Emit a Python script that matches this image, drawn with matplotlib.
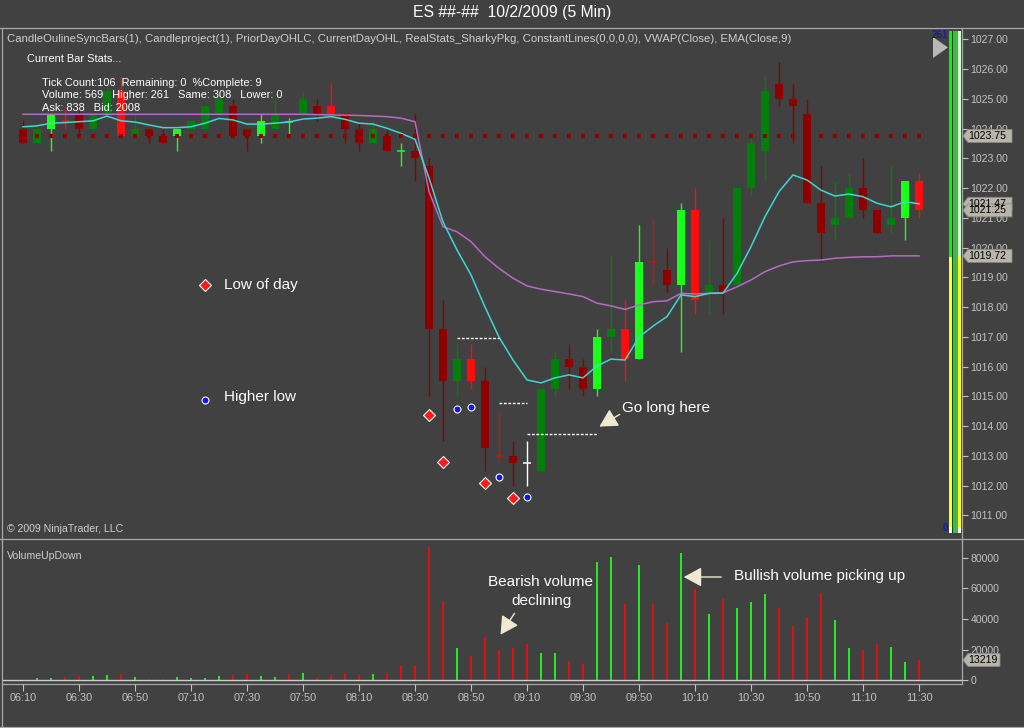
import matplotlib
matplotlib.use('Agg')
import matplotlib.pyplot as plt
import numpy as np
from matplotlib.patches import Polygon, Rectangle, FancyArrowPatch
from matplotlib.lines import Line2D
from matplotlib.transforms import IdentityTransform

plt.rcParams['font.family'] = ['Liberation Sans', 'DejaVu Sans']

# ---------------- data ----------------
time_labels = ["06:10", "06:30", "06:50", "07:10", "07:30", "07:50", "08:10", "08:30", "08:50",
               "09:10", "09:30", "09:50", "10:10", "10:30", "10:50", "11:10", "11:30"]

opens = [1024.0, 1023.5, 1024.0, 1024.25, 1024.5, 1024.0, 1024.5, 1025.25, 1023.75, 1024.0,
         1023.75, 1023.75, 1024.0, 1024.0, 1024.5, 1024.75, 1024.0, 1023.75, 1024.0, 1024.22,
         1024.5, 1024.75, 1024.75, 1024.5, 1024.0, 1023.5, 1023.75, 1023.25, 1023.25, 1022.75,
         1017.25, 1015.5, 1016.25, 1015.5, 1013.0, 1013.0, 1012.75, 1012.5, 1015.25, 1016.25,
         1016.0, 1015.25, 1017.0, 1017.25, 1016.25, 1019.5, 1019.25, 1018.75, 1021.25, 1018.5,
         1018.75, 1018.75, 1022.0, 1023.25, 1025.5, 1025.0, 1024.5, 1021.5, 1020.75, 1021.0,
         1022.0, 1021.25, 1020.75, 1021.0, 1022.25]
highs = [1024.25, 1024.0, 1024.5, 1024.75, 1024.75, 1024.5, 1025.5, 1025.75, 1024.5, 1024.0,
         1024.0, 1024.0, 1024.25, 1024.75, 1025.25, 1025.0, 1024.0, 1024.5, 1025.0, 1024.35,
         1025.25, 1025.0, 1025.5, 1024.5, 1024.25, 1024.25, 1024.0, 1023.5, 1024.5, 1023.0,
         1018.25, 1016.75, 1016.75, 1016.0, 1014.5, 1013.5, 1013.5, 1015.25, 1016.5, 1016.75,
         1016.25, 1017.25, 1019.75, 1018.25, 1020.75, 1021.0, 1020.0, 1021.5, 1022.0, 1020.25,
         1021.0, 1022.0, 1023.75, 1025.75, 1026.25, 1025.5, 1025.0, 1022.75, 1022.25, 1022.5,
         1023.0, 1021.25, 1022.75, 1022.25, 1022.5]
lows = [1023.5, 1023.5, 1023.25, 1024.0, 1023.75, 1024.0, 1024.5, 1023.75, 1023.75, 1023.5,
        1023.5, 1023.25, 1024.0, 1024.0, 1024.5, 1023.75, 1023.25, 1023.5, 1024.0, 1023.8,
        1024.5, 1024.25, 1024.5, 1023.5, 1023.25, 1023.5, 1023.25, 1022.75, 1022.25, 1015.0,
        1013.5, 1015.0, 1015.25, 1012.5, 1012.75, 1012.0, 1012.0, 1012.5, 1015.0, 1015.25,
        1015.0, 1015.0, 1016.5, 1015.5, 1016.25, 1018.75, 1018.5, 1016.5, 1017.75, 1017.75,
        1017.75, 1018.75, 1021.75, 1022.25, 1024.75, 1023.5, 1021.5, 1019.5, 1020.25, 1021.0,
        1021.0, 1020.5, 1020.5, 1020.25, 1021.0]
closes = [1023.5, 1024.0, 1024.5, 1024.25, 1024.0, 1024.5, 1025.25, 1023.75, 1024.0, 1023.75,
          1023.5, 1024.0, 1024.25, 1024.75, 1025.0, 1023.75, 1023.75, 1024.25, 1024.5, 1024.22,
          1025.0, 1024.5, 1024.5, 1024.0, 1023.5, 1024.0, 1023.25, 1023.25, 1023.0, 1017.25,
          1015.5, 1016.25, 1015.5, 1013.25, 1013.0, 1012.75, 1012.75, 1015.25, 1016.25, 1016.0,
          1015.25, 1017.0, 1017.25, 1016.25, 1019.5, 1019.5, 1018.75, 1021.25, 1018.25, 1018.75,
          1018.5, 1022.0, 1023.5, 1025.25, 1025.0, 1024.75, 1021.5, 1020.5, 1021.0, 1022.0,
          1021.25, 1020.5, 1021.0, 1022.25, 1021.25]
candle_kind = ("dr dg bg br dr dg dg br dg dr dr bg dg dg dg dr dr bg dg bg "
               "dg dr br dr dr dg dr bg dr dr dr dg br dr mr dr w dg dg dr "
               "dr bg dg br bg mr dr bg br dg dr dg dg dg dr dr dr dr dg dg "
               "dr dr dg bg br").split()

ema9 = [1024.06, 1024.09, 1024.18, 1024.20, 1024.23, 1024.26, 1024.42, 1024.26, 1024.22, 1024.12,
        1024.03, 1024.03, 1024.06, 1024.18, 1024.34, 1024.29, 1024.15, 1024.15, 1024.18, 1024.22,
        1024.32, 1024.35, 1024.40, 1024.31, 1024.18, 1024.15, 1024.01, 1023.84, 1023.64, 1022.34,
        1020.86, 1019.92, 1019.08, 1018.00, 1016.99, 1016.22, 1015.55, 1015.45, 1015.62, 1015.72,
        1015.62, 1016.02, 1016.25, 1016.22, 1016.99, 1017.36, 1017.68, 1018.41, 1018.35, 1018.46,
        1018.47, 1019.13, 1020.03, 1021.04, 1021.88, 1022.44, 1022.27, 1021.93, 1021.73, 1021.80,
        1021.71, 1021.49, 1021.37, 1021.54, 1021.47]
vwap = [1024.48] * 21 + [1024.47, 1024.46, 1024.45, 1024.44, 1024.42, 1024.40, 1024.35, 1024.23,
        1021.88, 1020.70, 1020.53, 1020.20, 1019.69, 1019.30, 1018.97, 1018.71, 1018.60, 1018.52,
        1018.44, 1018.35, 1018.13, 1018.04, 1017.92, 1018.07, 1018.18, 1018.21, 1018.46, 1018.44,
        1018.46, 1018.48, 1018.68, 1018.91, 1019.19, 1019.38, 1019.52, 1019.56, 1019.58, 1019.64,
        1019.67, 1019.69, 1019.69, 1019.72, 1019.72, 1019.72]

volume = [400, 1700, 1700, 2300, 2800, 2800, 3500, 4100, 2000, 600,
          600, 2000, 1200, 1700, 2800, 3500, 3800, 2800, 2000, 4000,
          5000, 1500, 3500, 5000, 3500, 3900, 4600, 10000, 10000, 87200,
          51700, 20900, 15900, 28500, 19500, 20900, 23500, 18000, 17600, 12800,
          10600, 77400, 80700, 49800, 75200, 49800, 37200, 83300, 59400, 43300,
          52900, 47400, 51300, 56300, 47400, 35400, 41100, 57200, 39400, 20900,
          19800, 23700, 21900, 12100, 13219]
volume_dir = ("r g g r r g g r g r r g g g g r r g g r "
              "g r r r r g r r r r r g r r r r r g g r "
              "r g g r g r r g r g r g g g r r r r g g "
              "r r g g r").split()

prior_level = 1023.75
low_of_day_bars = [29, 30, 33, 35]
low_of_day_marks = [1014.37, 1012.78, 1012.08, 1011.59]
higher_low_bars = [31, 32, 34, 36]
higher_low_marks = [1014.56, 1014.63, 1012.30, 1011.63]
dash_start = [31, 34, 36]
dash_end = [34, 36, 41]
dash_price = [1016.97, 1014.78, 1013.72]

price_ticks = list(range(1011, 1028))
vol_ticks = [0, 20000, 40000, 60000, 80000]

# ---------------- figure ----------------
W, H = 1024, 728
BG = '#414141'
TXT = '#c4c4c4'
fig = plt.figure(figsize=(W / 100, H / 100), dpi=100)
fig.patch.set_facecolor(BG)


def fx(px):
    return px / W


def fy(py):
    return 1 - py / H


n = len(opens)
xs = np.arange(n)
kind_col = {'dr': '#8e0000', 'br': '#ff0c0c', 'mr': '#cc1010', 'dg': '#00800a',
            'bg': '#1aff1a', 'w': '#ffffff'}
vcol = {'r': '#e01010', 'g': '#22ea22'}

# price panel
axp = fig.add_axes([fx(3), fy(538), fx(962) - fx(3), fy(28) - fy(538)])
axp.set_facecolor(BG)
axp.set_xlim(-1.4286, 67.07)
axp.set_ylim(1010.237, 1027.38)

o = np.array(opens); c = np.array(closes)
lo_b = np.minimum(o, c); hi_b = np.maximum(o, c)
cols = [kind_col[k] for k in candle_kind]
axp.vlines(xs, lows, highs, colors=cols, lw=1.0, zorder=2)
body = hi_b - lo_b
has_body = body > 0.01
axp.bar(xs[has_body], body[has_body], bottom=lo_b[has_body], width=0.52,
        color=[cols[i] for i in xs[has_body]], lw=0, zorder=3)
for i in xs[~has_body]:
    axp.hlines(o[i], i - 0.27, i + 0.27, colors=cols[i], lw=1.1, zorder=3)

axp.plot(xs, vwap, color='#b56cc6', lw=1.1, zorder=4)
axp.plot(xs, ema9, color='#3fd8d0', lw=1.1, zorder=5)
axp.scatter(xs, [prior_level] * n, marker='s', s=9, color='#8e0000', lw=0, zorder=6)

for s0, s1, p in zip(dash_start, dash_end, dash_price):
    axp.plot([s0, s1], [p, p], color='white', lw=1.0, ls=(0, (2, 1.2)), zorder=6)

axp.plot(low_of_day_bars, low_of_day_marks, ls='none', marker='D', ms=6.2,
         mfc='#ff1a1a', mec='white', mew=0.8, zorder=7)
axp.plot(higher_low_bars, higher_low_marks, ls='none', marker='o', ms=5.0,
         mfc='#1010ff', mec='white', mew=0.8, zorder=7)

axp.yaxis.tick_right()
axp.set_yticks(price_ticks)
axp.set_yticklabels([f"{t:.2f}" for t in price_ticks])
axp.tick_params(axis='y', colors=TXT, labelsize=7.6, length=4, width=0.8, pad=2.0)
axp.set_xticks([])
for sname, sp in axp.spines.items():
    if sname == 'right':
        sp.set_color('#a8a8a8'); sp.set_linewidth(0.9)
    else:
        sp.set_visible(False)

# volume panel
axv = fig.add_axes([fx(3), fy(684), fx(962) - fx(3), fy(540) - fy(684)])
axv.set_facecolor(BG)
axv.set_xlim(-1.4286, 67.07)
axv.set_ylim(-2414, 91550)
axv.bar(xs, volume, width=0.2, color=[vcol[d] for d in volume_dir], lw=0, zorder=3)
axv.axhline(0, color='#cfcfcf', lw=1.0, zorder=4)
axv.yaxis.tick_right()
axv.set_yticks(vol_ticks)
axv.set_yticklabels([str(t) for t in vol_ticks])
axv.tick_params(axis='y', colors=TXT, labelsize=7.6, length=4, width=0.8, pad=2.0)
axv.set_xticks(xs[::4])
axv.set_xticklabels(time_labels)
axv.tick_params(axis='x', colors=TXT, labelsize=7.8, length=5, width=0.8, pad=1.5)
for sname, sp in axv.spines.items():
    if sname in ('right', 'bottom'):
        sp.set_color('#a8a8a8'); sp.set_linewidth(0.9)
    else:
        sp.set_visible(False)

# ---------------- frame lines ----------------
for (x0, y0, x1, y1) in [(0, 27.5, W, 27.5), (0, 538.5, W, 538.5), (1.5, 27.5, 1.5, 727),
                         (0, 726.5, W, 726.5)]:
    fig.add_artist(Line2D([fx(x0), fx(x1)], [fy(y0), fy(y1)], color='#a8a8a8', lw=0.9))

# ---------------- texts ----------------
fig.text(0.5, fy(13), "ES ##-##  10/2/2009 (5 Min)", color='white', fontsize=11.3,
         ha='center', va='center')
fig.text(fx(7), fy(39.5), "CandleOulineSyncBars(1), Candleproject(1), PriorDayOHLC, CurrentDayOHL, "
         "RealStats_SharkyPkg, ConstantLines(0,0,0,0), VWAP(Close), EMA(Close,9)",
         color='#cfcfcf', fontsize=8.2, ha='left', va='center')
fig.text(fx(27), fy(59), "Current Bar Stats...", color='white', fontsize=7.9, va='center')
fig.text(fx(42), fy(83), "Tick Count:106  Remaining: 0  %Complete: 9", color='white',
         fontsize=7.9, va='center')
fig.text(fx(42), fy(95.5), "Volume: 569   Higher: 261   Same: 308   Lower: 0", color='white',
         fontsize=7.9, va='center')
fig.text(fx(42), fy(108), "Ask: 838   Bid: 2008", color='white', fontsize=7.9, va='center')
fig.text(fx(7), fy(529), "© 2009 NinjaTrader, LLC", color='#cfcfcf', fontsize=7.6, va='center')
fig.text(fx(7), fy(556), "VolumeUpDown", color='#cfcfcf', fontsize=7.6, va='center')

fig.add_artist(Line2D([fx(205)], [fy(285)], marker='D', ms=6.2, mfc='#ff1a1a', mec='white',
                      mew=0.8, ls='none'))
fig.text(fx(224), fy(285), "Low of day", color='white', fontsize=11, va='center')
fig.add_artist(Line2D([fx(205)], [fy(400)], marker='o', ms=5.0, mfc='#1010ff', mec='white',
                      mew=0.8, ls='none'))
fig.text(fx(224), fy(397), "Higher low", color='white', fontsize=11, va='center')

fig.text(fx(622), fy(408), "Go long here", color='white', fontsize=11, va='center')
fig.text(fx(541), fy(582), "Bearish volume", color='white', fontsize=11, va='center', ha='center')
fig.text(fx(541), fy(601), "declining", color='white', fontsize=11, va='center', ha='center')
fig.text(fx(734), fy(576), "Bullish volume picking up", color='white', fontsize=11, va='center')

ARW = '#efe9d4'
for (x0, y0, x1, y1) in [(622, 413, 597, 428), (516, 611, 499, 637), (724, 577, 681, 577)]:
    fig.add_artist(FancyArrowPatch((fx(x0), fy(y0)), (fx(x1), fy(y1)),
                                   transform=fig.transFigure,
                                   arrowstyle='-|>,head_length=11,head_width=6',
                                   mutation_scale=1, color=ARW, lw=1.0))

# ---------------- RealStats meter ----------------
def frect(x0, y0, x1, y1, color):
    fig.add_artist(Rectangle((fx(x0), fy(y1)), fx(x1) - fx(x0), fy(y0) - fy(y1),
                             transform=fig.transFigure, color=color, lw=0))

frect(948.5, 31, 952.3, 257, '#12ee12')
frect(948.5, 257, 952.3, 527, '#ffff20')
frect(948.5, 527, 952.3, 533, '#ffffff')
frect(952.3, 31, 953.2, 533, '#0a4a0a')
frect(953.2, 31, 957.5, 533, '#44b844')
frect(957.5, 31, 958.3, 533, '#12ee12')
frect(958.3, 31, 961, 257, '#d0ffd0')
frect(958.3, 257, 961, 527, '#ffff20')
frect(958.3, 527, 961, 533, '#ffffff')
fig.add_artist(Polygon([(fx(933), fy(37)), (fx(948), fy(47.5)), (fx(933), fy(58))],
                       closed=True, transform=fig.transFigure, color='#b8b8b8', lw=0))
fig.text(fx(940), fy(35), "261", color='#1a1aa0', fontsize=7, fontweight='bold',
         ha='center', va='center')
fig.text(fx(945), fy(528), "0", color='#1a1aa0', fontsize=7, fontweight='bold',
         ha='center', va='center')


# ---------------- value flags on the axes ----------------
def flag(ax, value, text, right=1012):
    yd = ax.transData.transform((0, value))[1]
    pts = [(963, yd), (968, yd + 6.5), (right, yd + 6.5), (right, yd - 6.5), (968, yd - 6.5)]
    fig.add_artist(Polygon(pts, closed=True, transform=IdentityTransform(),
                           facecolor='#b8b6aa', edgecolor='#8a8a80', lw=0.6, zorder=10))
    t = fig.text(0, 0, text, color='black', fontsize=7.6, va='center', ha='left', zorder=11)
    t.set_transform(IdentityTransform())
    t.set_position((968.5, yd))


flag(axp, prior_level, "1023.75")
flag(axp, ema9[-1], f"{ema9[-1]:.2f}")
flag(axp, closes[-1], f"{closes[-1]:.2f}")
flag(axp, vwap[-1], f"{vwap[-1]:.2f}")
flag(axv, volume[-1], str(volume[-1]), right=1000)

fig.savefig('out.png', dpi=100, facecolor=BG)
